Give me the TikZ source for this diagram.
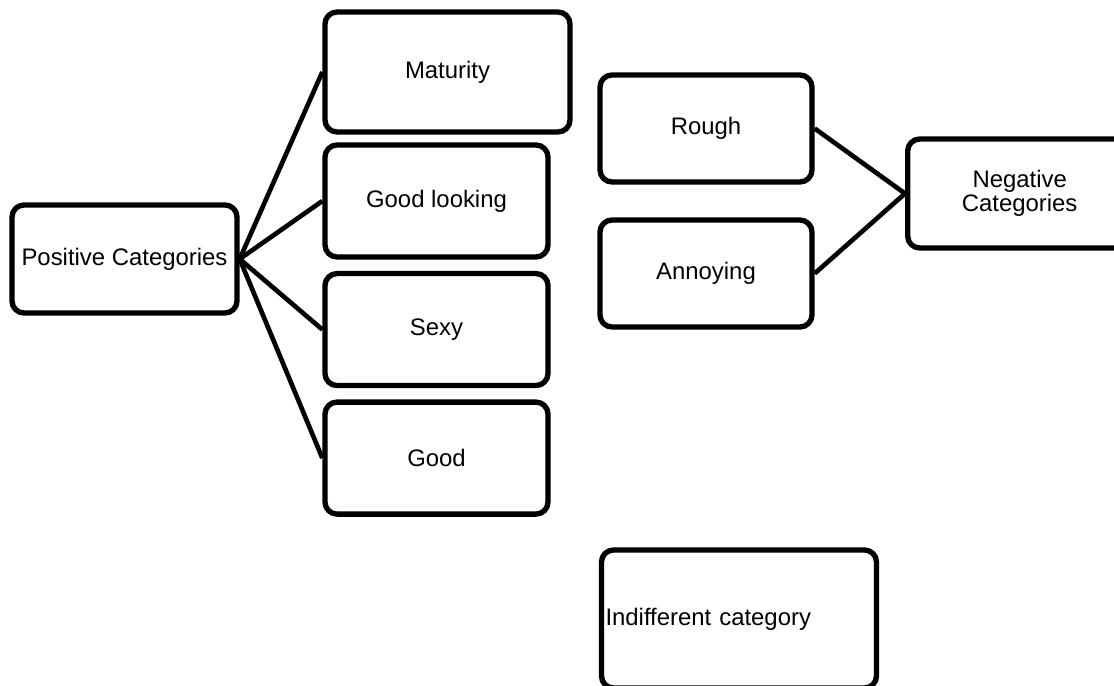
\documentclass[tikz,border=0pt]{standalone}
\usepackage{fontspec}
\setmainfont{Liberation Sans}
\usetikzlibrary{positioning}
\def\dx{1.925cm}
\def\dy{0.28cm}
\tikzstyle{cat}=[draw,rounded corners=0.3cm,line width=3.8pt,inner sep=0pt,
  minimum width=5.575cm,minimum height=2.8cm,align=center,
  font=\fontsize{17}{17}\selectfont]
\newcommand{\newCat}[4]{\node[cat,#3](#1)[#4]{#2};}
\newcommand{\newLink}[2]{\draw (#1) -- (#2);}

\begin{document}
\begin{tikzpicture}[node distance=\dy and \dx,
    line width=3.3pt, line join=round
    ]
    \useasboundingbox (0,0) rectangle (27.85,-17.15);
    \clip (0,0) rectangle (27.85,-17.15);
    % positive side
    \newCat{pos}{Positive Categories}{minimum width=5.625cm,minimum height=2.7cm}{at={(3.1125,-6.475)}}
    \newCat{mat}{Maturity}{minimum width=6.125cm,minimum height=3cm}{at={(11.1875,-1.8)}}
    \newCat{gl}{Good looking}{}{at={(10.9125,-5.025)}}
    \newCat{sexy}{Sexy}{}{below=of gl}
    \newCat{good}{Good}{}{below=of sexy}
    % negative side
    \newCat{rough}{Rough}{minimum width=5.3cm,minimum height=2.675cm}{at={(17.65,-3.2125)}}
    \newCat{annoy}{Annoying}{minimum width=5.3cm,minimum height=2.675cm}{at={(17.65,-6.8375)}}
    \newCat{neg}{Negative\\Categories}{minimum width=5.6cm,minimum height=2.725cm,anchor=west}{at={(22.625,-4.8375)}}
    % indifferent
    \newCat{ind}{Indifferent category}{text width=6.675cm,inner xsep=0.1cm,align=left,minimum height=3.45cm}{at={(18.475,-15.475)}}
    \newLink{pos.east}{mat.west}
    \newLink{pos.east}{gl.west}
    \newLink{pos.east}{sexy.west}
    \newLink{pos.east}{good.west}
    \newLink{rough.east}{neg.west}
    \newLink{annoy.east}{neg.west}
  \end{tikzpicture}
\end{document}
